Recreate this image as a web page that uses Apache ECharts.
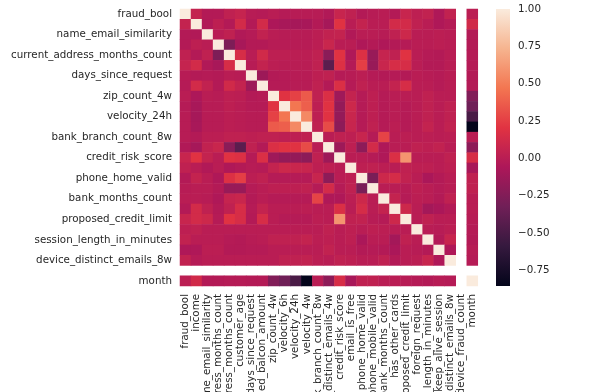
<!DOCTYPE html>
<html>
<head>
<meta charset="utf-8">
<title>correlation heatmap</title>
<script src="https://cdn.jsdelivr.net/npm/echarts@6/dist/echarts.min.js"></script>
<style>
  html, body { margin: 0; padding: 0; background: #fff; overflow: hidden; }
  #chart { width: 603px; height: 392px; filter: blur(0.45px); }
</style>
</head>
<body>
<div id="chart"></div>
<script>
var features = [
  'fraud_bool', 'income', 'name_email_similarity', 'prev_address_months_count',
  'current_address_months_count', 'customer_age', 'days_since_request',
  'intended_balcon_amount', 'zip_count_4w', 'velocity_6h', 'velocity_24h',
  'velocity_4w', 'bank_branch_count_8w', 'date_of_birth_distinct_emails_4w',
  'credit_risk_score', 'email_is_free', 'phone_home_valid', 'phone_mobile_valid',
  'bank_months_count', 'has_other_cards', 'proposed_credit_limit', 'foreign_request',
  'session_length_in_minutes', 'keep_alive_session', 'device_distinct_emails_8w',
  'device_fraud_count', 'month'
]

// upper triangle of the correlation matrix, each row starts at its diagonal
var r0 = [1, .05, -.03, -.03, .03, .06, -.01, -.02, 0, -.02, -.01, -.01, -.01, -.04, .07, .03, -.03, -.01, 0, -.03, .07, .02, .04, -.05, .04, null, .01]
var r1 = [1, -.04, .02, -.03, .13, -.03, .13, -.06, -.08, -.09, -.08, -.03, -.09, .2, 0, .05, 0, 0, .13, .13, .03, 0, -.05, -.02, null, .12]
var r2 = [1, 0, .03, -.04, -.02, .04, 0, -.01, -.01, -.01, .01, .04, .05, -.04, 0, 0, -.01, .03, .1, 0, 0, .01, 0, null, -.03]
var r3 = [1, -.27, -.08, -.03, -.03, -.01, -.01, -.01, -.01, .01, .08, 0, 0, -.05, -.03, -.05, -.03, -.02, 0, 0, .01, 0, null, -.03]
var r4 = [1, .15, 0, .12, .02, .02, .01, .01, .03, -.21, .2, -.05, .18, -.15, .06, .03, .2, 0, -.02, -.03, 0, null, -.02]
var r5 = [1, -.01, .05, .01, 0, 0, 0, .03, -.42, .18, -.03, .25, -.15, .08, .15, .15, 0, -.03, -.03, 0, null, -.02]
var r6 = [1, -.13, -.03, -.02, -.01, -.01, .02, .03, -.02, -.01, .01, -.02, -.03, -.02, -.03, 0, -.01, -.02, 0, null, -.03]
var r7 = [1, -.02, -.02, -.01, -.01, .03, -.03, .17, -.02, .03, 0, 0, .05, .15, 0, 0, -.02, 0, null, -.03]
var r8 = [1, .2, .26, .36, .03, .17, -.12, .05, -.02, .02, -.02, 0, 0, 0, .03, 0, 0, null, -.25]
var r9 = [1, .47, .38, .02, .2, -.17, .1, -.02, .02, -.02, 0, -.02, 0, .03, 0, .03, null, -.33]
var r10 = [1, .55, .02, .2, -.17, .08, -.02, .02, -.02, 0, -.02, 0, .03, 0, .03, null, -.5]
var r11 = [1, .03, .3, -.2, .07, -.02, .03, -.02, .01, -.02, 0, .05, 0, .04, null, -.85]
var r12 = [1, 0, .03, .02, .07, -.02, .27, 0, .01, 0, .01, 0, .01, null, 0]
var r13 = [1, -.13, .02, -.2, .13, -.05, 0, 0, .03, .02, .04, 0, null, -.2]
var r14 = [1, 0, 0, -.02, -.05, .17, .6, 0, 0, 0, .03, null, .15]
var r15 = [1, .02, .03, .01, 0, .03, .02, .02, 0, .02, null, -.08]
var r16 = [1, -.28, .1, .14, .04, 0, -.07, -.03, 0, null, .03]
var r17 = [1, 0, 0, -.01, .02, 0, -.02, 0, null, .03]
var r18 = [1, .05, -.02, .01, 0, -.03, .03, null, 0]
var r19 = [1, .1, 0, -.1, -.07, -.03, null, 0]
var r20 = [1, 0, .03, 0, 0, null, -.01]
var r21 = [1, 0, -.01, .01, null, -.02]
var r22 = [1, -.03, .07, null, -.03]
var r23 = [1, -.05, null, -.01]
var r24 = [1, null, -.02]
var r25 = [null, null]
var r26 = [1]

var upper = [r0, r1, r2, r3, r4, r5, r6, r7, r8, r9, r10, r11, r12, r13, r14, r15, r16, r17, r18, r19, r20, r21, r22, r23, r24, r25, r26]

var colorbarTicks = [-0.75, -0.5, -0.25, 0, 0.25, 0.5, 0.75, 1]
var colorMin = -0.855
var colorMax = 1
var rocket = ['#03051a', '#35193e', '#701f57', '#ad1759', '#e13342', '#f37651', '#f6b48f', '#faebdd']

// mirror the triangle, device_fraud_count stays empty
var cells = []
upper.forEach(function(row, i) {
  row.forEach(function(v, k) {
    var j = i + k
    if (v === null) return
    cells.push([j, i, v])
    if (i !== j) cells.push([i, j, v])
  })
})

var mycharts = echarts.init(document.getElementById('chart'))
var font = 'DejaVu Sans'
var option = {
  animation: false,
  backgroundColor: '#fff',
  textStyle: { fontFamily: font },
  grid: [
    { left: 180, top: 9, width: 297.8, height: 277, outerBoundsMode: 'none' },
    { left: 496, top: 9, width: 14, height: 277, outerBoundsMode: 'none' }
  ],
  xAxis: [
    {
      type: 'category',
      data: features,
      axisLine: { show: false },
      splitLine: { show: false },
      axisTick: { alignWithLabel: true, length: 4, lineStyle: { color: '#333' }, interval: 0 },
      axisLabel: { interval: 0, rotate: 90, fontSize: 10.3, color: '#262626', margin: 8 }
    },
    { type: 'value', gridIndex: 1, show: false, min: 0, max: 1 }
  ],
  yAxis: [
    {
      type: 'category',
      data: features,
      inverse: true,
      axisLine: { show: false },
      splitLine: { show: false },
      axisTick: { alignWithLabel: true, length: 4, lineStyle: { color: '#333' }, interval: 1 },
      axisLabel: { interval: 1, fontSize: 10.3, color: '#262626', margin: 8 }
    },
    {
      type: 'value',
      gridIndex: 1,
      position: 'right',
      min: colorMin,
      max: colorMax,
      axisLine: { show: false },
      splitLine: { show: false },
      axisTick: { show: true, length: 4, lineStyle: { color: '#333' }, customValues: colorbarTicks },
      axisLabel: {
        fontSize: 10.3,
        color: '#262626',
        margin: 8,
        customValues: colorbarTicks,
        formatter: function(v) {
          return (v < 0 ? '\u2212' : '') + Math.abs(v).toFixed(2)
        }
      }
    }
  ],
  visualMap: {
    show: false,
    type: 'continuous',
    min: colorMin,
    max: colorMax,
    seriesIndex: 0,
    inRange: { color: rocket }
  },
  series: [
    {
      type: 'heatmap',
      data: cells,
      progressive: 0
    },
    {
      // colour bar, square ended
      type: 'custom',
      xAxisIndex: 1,
      yAxisIndex: 1,
      silent: true,
      clip: false,
      data: [[0, colorMin, 1, colorMax]],
      renderItem: function(params, api) {
        var a = api.coord([api.value(0), api.value(1)])
        var b = api.coord([api.value(2), api.value(3)])
        return {
          type: 'rect',
          shape: { x: a[0], y: b[1], width: b[0] - a[0], height: a[1] - b[1] },
          style: {
            fill: new echarts.graphic.LinearGradient(0, 1, 0, 0, rocket.map(function(c, i) {
              return { offset: i / (rocket.length - 1), color: c }
            }))
          }
        }
      }
    }
  ]
}
mycharts.setOption(option)
</script>
</body>
</html>
